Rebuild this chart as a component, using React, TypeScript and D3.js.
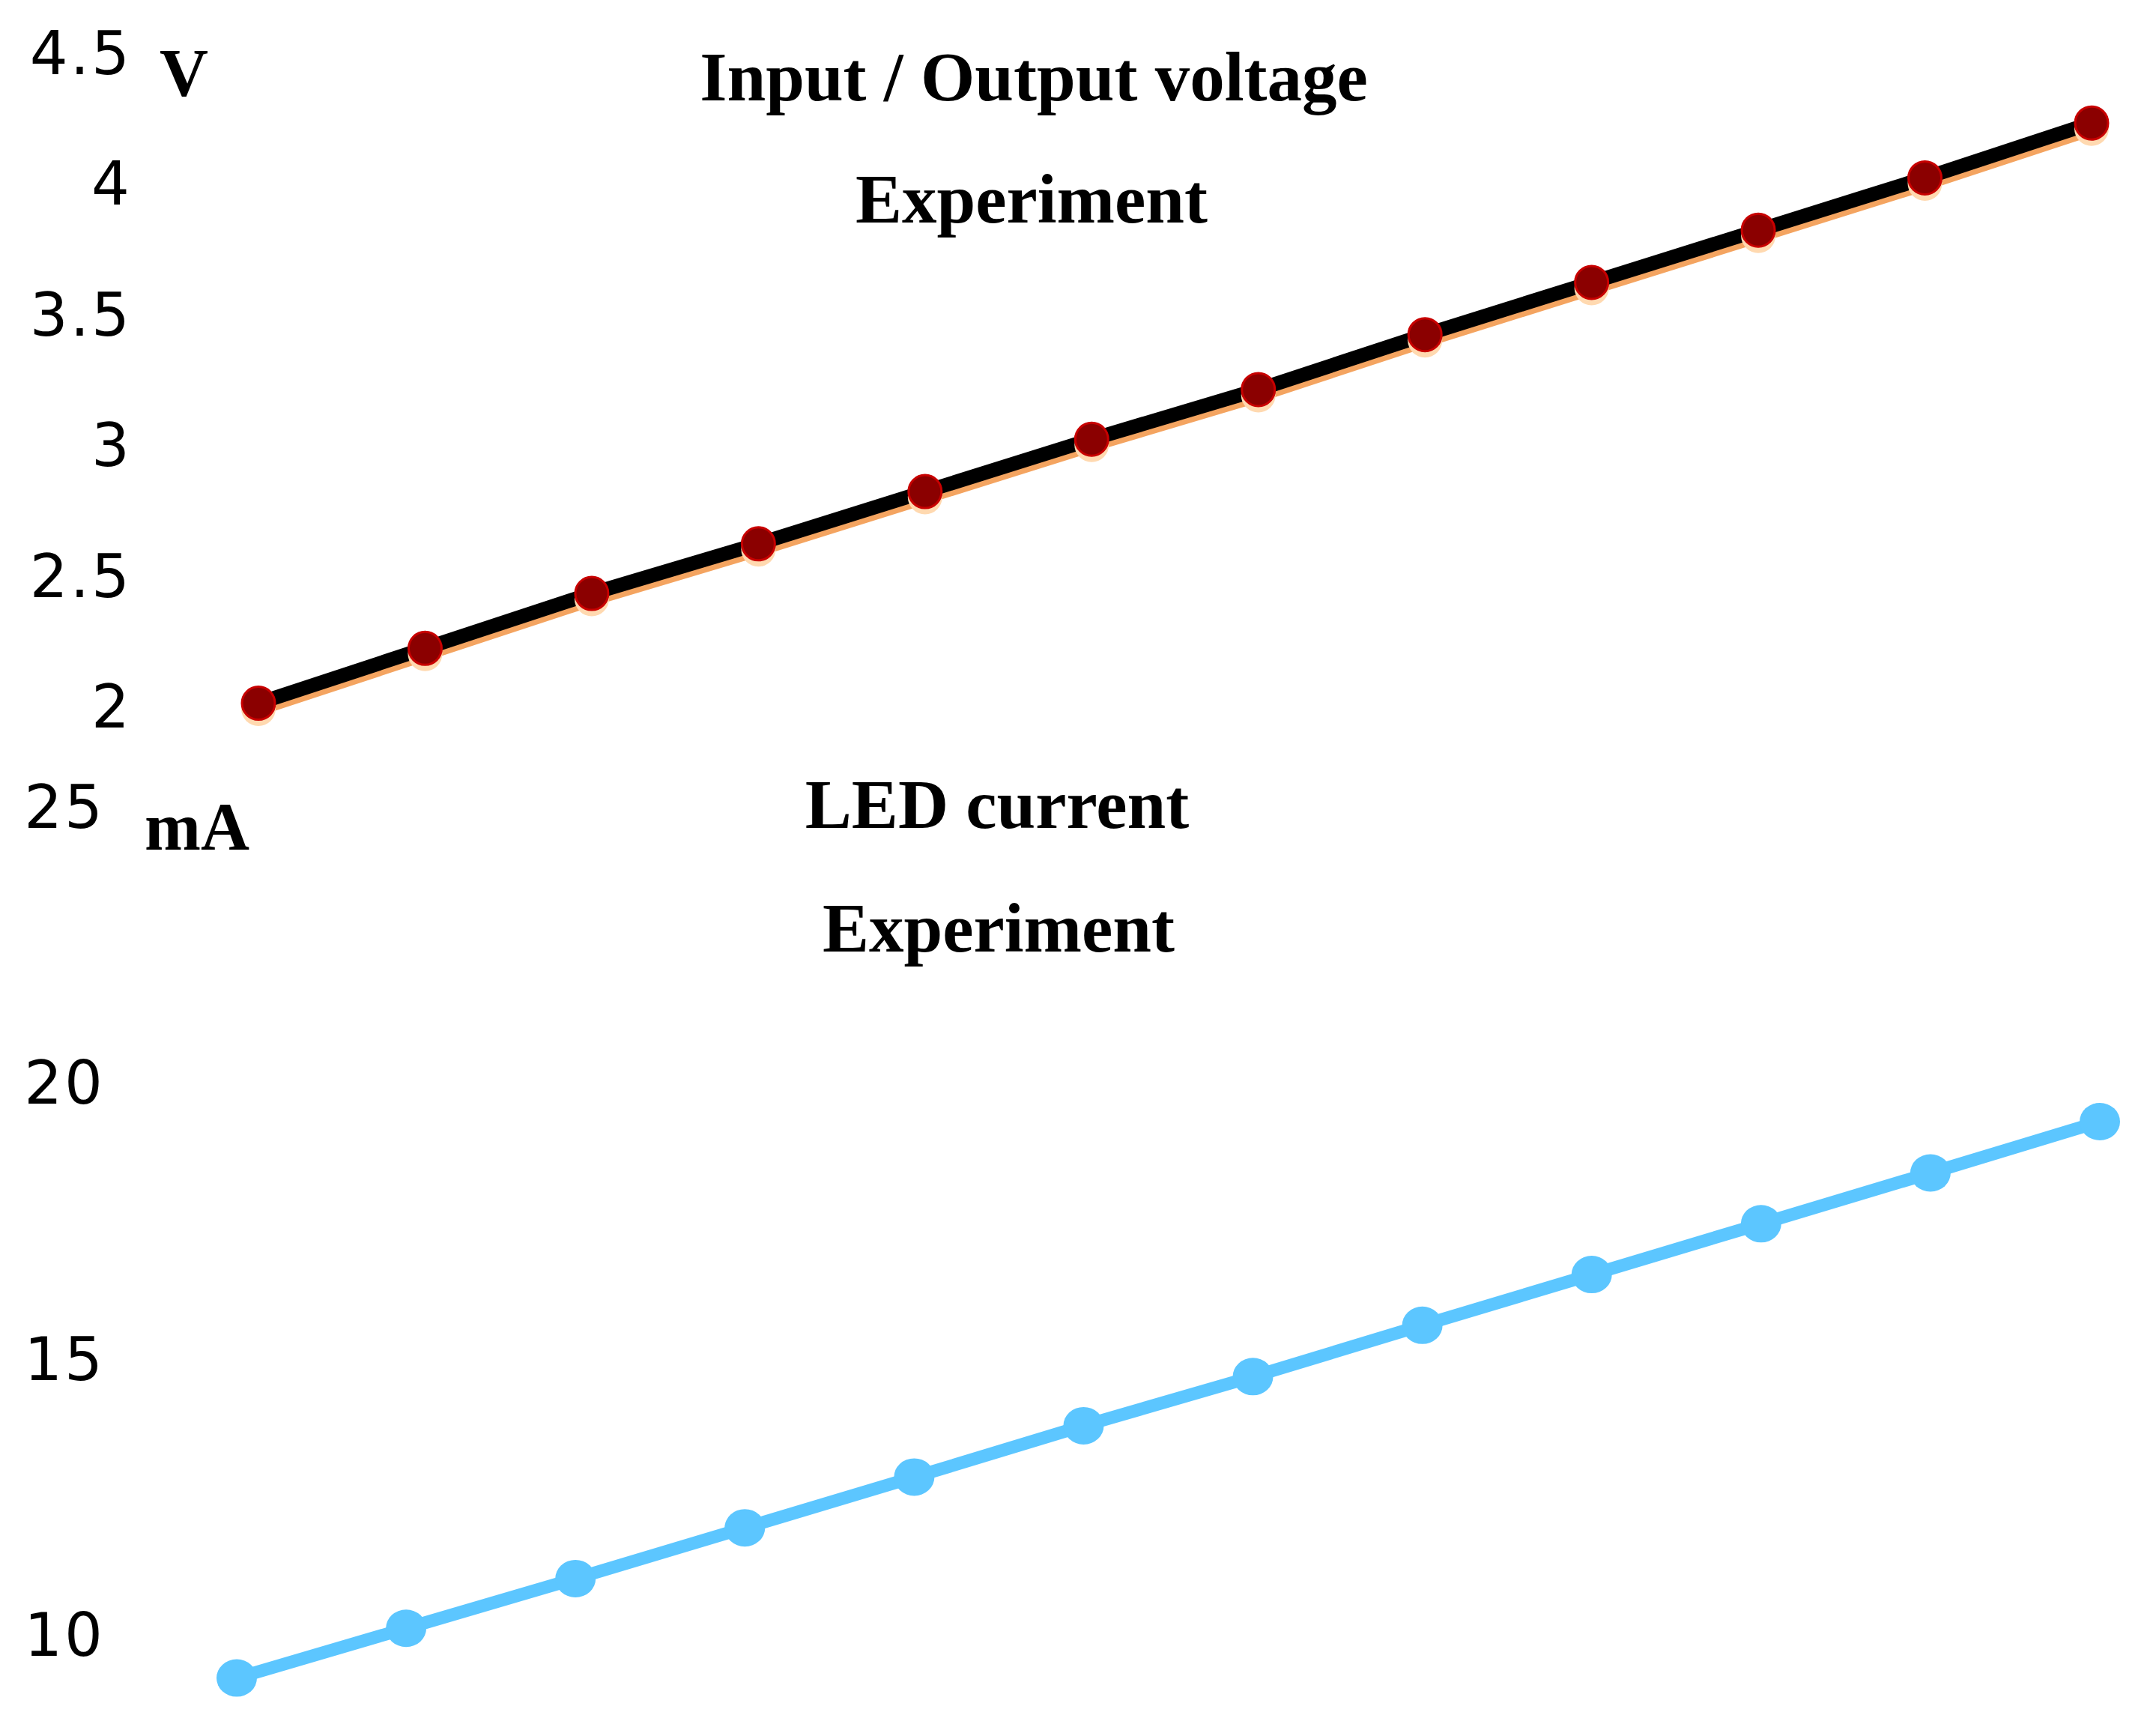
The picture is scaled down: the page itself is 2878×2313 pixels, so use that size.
import React from "react";
import * as d3 from "d3";

// voltage chart (top)
const voltSteps = [0, 1, 2, 3, 4, 5, 6, 7, 8, 9, 10, 11];
const inputVoltage = [2.03, 2.24, 2.45, 2.64, 2.84, 3.04, 3.23, 3.44, 3.64, 3.84, 4.04, 4.25];
const outputVoltage = [2.02, 2.23, 2.44, 2.63, 2.83, 3.03, 3.22, 3.43, 3.63, 3.83, 4.03, 4.24];
const voltTicks = [2, 2.5, 3, 3.5, 4, 4.5];

// current chart (bottom)
const currentSteps = [0, 1, 2, 3, 4, 5, 6, 7, 8, 9, 10, 11];
const ledCurrent = [9.3, 10.2, 11.1, 12.02, 12.94, 13.87, 14.76, 15.69, 16.61, 17.53, 18.45, 19.38];
const currentTicks = [10, 15, 20, 25];

const W = 2878;
const H = 2313;
const tickFont = "'DejaVu Sans', Verdana, sans-serif";
const titleFont = "'Liberation Serif', 'Times New Roman', serif";

export default function App() {
  const xTop = d3.scaleLinear().domain([0, 11]).range([345, 2792]);
  const yTop = d3.scaleLinear().domain([2, 4.5]).range([949, 77]);

  const xBot = d3.scaleLinear().domain([0, 11]).range([316, 2803]);
  const yBot = d3.scaleLinear().domain([10, 25]).range([2188, 1083]);

  const lineTop = d3.line<number>().x((d, i) => xTop(voltSteps[i])).y(d => yTop(d));
  const lineBot = d3.line<number>().x((d, i) => xBot(currentSteps[i])).y(d => yBot(d));

  return (
    <div>
      <style>{"body{margin:0}"}</style>
      <svg width={W} height={H} style={{ display: "block", background: "#fff" }}>
        {/* top chart */}
        <g>
          {voltTicks.map(t => (
            <text key={t} x={176} y={yTop(t)} textAnchor="end" dominantBaseline="middle"
              fontFamily={tickFont} fontSize={80} letterSpacing={3} fill="#000">
              {String(t)}
            </text>
          ))}
          <path d={lineTop(outputVoltage) || ""} fill="none" stroke="#F4A460" strokeWidth={19}
            transform="translate(0,4)" />
          <path d={lineTop(inputVoltage) || ""} fill="none" stroke="#000" strokeWidth={19} />
          {outputVoltage.map((v, i) => (
            <circle key={"o" + i} cx={xTop(voltSteps[i])} cy={yTop(v) + 4} r={23} fill="#FFD9B0" />
          ))}
          {inputVoltage.map((v, i) => (
            <circle key={i} cx={xTop(voltSteps[i])} cy={yTop(v)} r={22} fill="#8B0000"
              stroke="#C80000" strokeWidth={3} />
          ))}
          <text x={213} y={128} fontFamily={titleFont} fontWeight="bold" fontSize={90} fill="#000">V</text>
          <text x={1380} y={134} textAnchor="middle" fontFamily={titleFont} fontWeight="bold"
            fontSize={93} fill="#000">Input / Output voltage</text>
          <text x={1377} y={297} textAnchor="middle" fontFamily={titleFont} fontWeight="bold"
            fontSize={93} fill="#000">Experiment</text>
        </g>

        {/* bottom chart */}
        <g>
          {currentTicks.map(t => (
            <text key={t} x={140} y={yBot(t)} textAnchor="end" dominantBaseline="middle"
              fontFamily={tickFont} fontSize={80} letterSpacing={3} fill="#000">
              {String(t)}
            </text>
          ))}
          <path d={lineBot(ledCurrent) || ""} fill="none" stroke="#5CC6FF" strokeWidth={17} />
          {ledCurrent.map((v, i) => (
            <ellipse key={i} cx={xBot(currentSteps[i])} cy={yBot(v)} rx={27} ry={25} fill="#5CC6FF" />
          ))}
          <text x={193} y={1134} fontFamily={titleFont} fontWeight="bold" fontSize={90} fill="#000">mA</text>
          <text x={1331} y={1105} textAnchor="middle" fontFamily={titleFont} fontWeight="bold"
            fontSize={93} fill="#000">LED current</text>
          <text x={1333} y={1270} textAnchor="middle" fontFamily={titleFont} fontWeight="bold"
            fontSize={93} fill="#000">Experiment</text>
        </g>
      </svg>
    </div>
  );
}
